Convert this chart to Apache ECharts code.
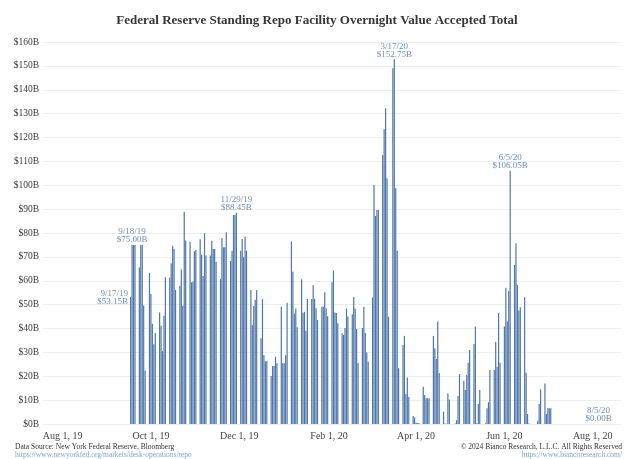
<!DOCTYPE html>
<html>
<head>
<meta charset="utf-8">
<script src="https://cdn.jsdelivr.net/npm/echarts@6/dist/echarts.min.js"></script>
<style>
  html, body { margin: 0; padding: 0; background: #ffffff; }
  #chart { width: 634px; height: 459px; }
</style>
</head>
<body>
<div id="chart"></div>
<script>
// Overnight repo accepted, $ billions, one row per week (Mon..Fri).
const weekStarts = [
  '2019-09-16', '2019-09-23', '2019-09-30', '2019-10-07', '2019-10-14', '2019-10-21',
  '2019-10-28', '2019-11-04', '2019-11-11', '2019-11-18', '2019-11-25', '2019-12-02',
  '2019-12-09', '2019-12-16', '2019-12-23', '2019-12-30', '2020-01-06', '2020-01-13',
  '2020-01-20', '2020-01-27', '2020-02-03', '2020-02-10', '2020-02-17', '2020-02-24',
  '2020-03-02', '2020-03-09', '2020-03-16', '2020-03-23', '2020-03-30', '2020-04-06',
  '2020-04-13', '2020-04-20', '2020-04-27', '2020-05-04', '2020-05-11', '2020-05-18',
  '2020-05-25', '2020-06-01', '2020-06-08', '2020-06-15', '2020-06-22', '2020-06-29',
  '2020-07-06', '2020-07-13', '2020-07-20', '2020-07-27', '2020-08-03'
];
const acceptedByWeek = [
  [null, 53.15, 75.00, 75.00, 75.00],
  [65.5, 75.0, 75.0, 49.6, 22.4],
  [63.2, 54.5, 42.0, 33.4, 38.1],
  [46.7, 41.1, 30.5, 45.3, 61.4],
  [61.4, 67.3, 74.7, 73.3, 56.2],
  [57.9, 64.7, 49.5, 88.9, 76.9],
  [76.3, 59.3, 59.7, 72.4, 72.9],
  [77.4, 70.8, 62.0, 79.9, 70.6],
  [70.6, 76.8, 73.3, 73.3, 68.0],
  [60.7, 77.9, 74.0, 74.0, 80.3],
  [68.3, 72.6, 87.5, 87.5, 88.45],
  [72.6, 77.5, 69.8, 78.5, 72.6],
  [56.1, 41.5, 49.4, 52.0, 56.1],
  [35.9, 52.3, 28.9, 26.3, 26.3],
  [20.1, 24.3, 24.3, 28.2, 25.4],
  [49.1, 25.4, 25.4, 28.8, 50.8],
  [76.5, 63.8, 46.2, 48.4, 40.5],
  [60.6, 46.6, 47.0, 39.1, 52.4],
  [52.4, 58.2, 52.5, 48.5, 43.6],
  [49.1, 49.1, 55.2, 48.4, 45.1],
  [59.4, 64.3, 46.7, 46.5, 42.2],
  [38.0, 37.3, 40.2, 48.4, 45.0],
  [46.0, 53.2, 48.4, 39.8, 25.5],
  [40.2, 49.1, 38.1, 29.9, 26.1],
  [53.0, 100.1, 87.1, 89.6, 89.6],
  [112.7, 123.5, 132.2, 102.9, 45.0],
  [149.0, 152.75, 98.7, 72.6, 23.3],
  [33.1, 36.9, 12.6, 19.5, 11.3],
  [3.4, 2.8, 0.6, 0.4, 0.4],
  [15.6, 12.1, 10.8, 10.8, 10.8],
  [36.9, 31.7, 27.2, 42.9, 21.4],
  [5.2, 0.2, 0.1, 12.8, 10.3],
  [0, 0.2, 1.6, 11.7, 20.9],
  [18.1, 14.2, 20.5, 25.7, 31.0],
  [33.5, 40.8, 0.3, 8.4, 14.2],
  [0, 0.3, 6.6, 9.1, 22.6],
  [22.6, 34.5, 24.0, 46.6, 25.7],
  [40.8, 57.1, 42.9, 55.7, 106.05],
  [66.6, 75.7, 58.2, 47.5, 48.9],
  [53.1, 21.5, 4.2, 0.2, 0],
  [0, 0, 1.4, 8.4, 14.5],
  [17.0, 4.2, 6.6, 6.6, 6.6],
  [0, 0, 0, 0, 0],
  [0, 0, 0, 0, 0],
  [0, 0, 0, 0, 0],
  [0, 0, 0, 0, 0],
  [0, 0, 0]
];

// Calendar range of the date axis and its labelled dates.
const axisStart = '2019-07-19';
const axisEnd = '2020-08-20';
const tickDates = ['2019-08-01', '2019-10-01', '2019-12-01', '2020-02-01', '2020-04-01', '2020-06-01', '2020-08-01'];

// Days that get a date/value call-out above the bar.
const calloutDates = ['2019-09-17', '2019-09-18', '2019-11-29', '2020-03-17', '2020-06-05', '2020-08-05'];
const calloutLeft = ['2019-09-17'];

const MONTHS = ['Jan', 'Feb', 'Mar', 'Apr', 'May', 'Jun', 'Jul', 'Aug', 'Sep', 'Oct', 'Nov', 'Dec'];
const SERIF = '"Liberation Serif", "DejaVu Serif", serif';

function addDays(s, n) {
  const d = new Date(s + 'T00:00:00Z');
  d.setUTCDate(d.getUTCDate() + n);
  return d.toISOString().slice(0, 10);
}
function parts(s) {
  const [y, m, d] = s.split('-').map(Number);
  return { y: y % 100, m: m, d: d };
}

const valueByDate = {};
weekStarts.forEach((w, i) => {
  acceptedByWeek[i].forEach((v, j) => {
    if (v !== null) valueByDate[addDays(w, j)] = v;
  });
});

const days = [];
for (let s = axisStart; s <= axisEnd; s = addDays(s, 1)) days.push(s);

const tickSet = new Set(tickDates);

const calloutStyle = {
  fontFamily: SERIF,
  fontSize: 9,
  lineHeight: 8,
  color: '#6f8fbd'
};

const barData = days.map(d => {
  const v = valueByDate[d];
  if (v === undefined) return '-';
  if (calloutDates.indexOf(d) >= 0) {
    const p = parts(d);
    const text = p.m + '/' + p.d + '/' + p.y + '\n$' + v.toFixed(2) + 'B';
    const left = calloutLeft.indexOf(d) >= 0;
    const label = left
      ? Object.assign({ show: true, position: [-2, 1], align: 'right', verticalAlign: 'middle', formatter: text }, calloutStyle)
      : Object.assign({ show: true, position: 'top', distance: 1, formatter: text }, calloutStyle);
    return { value: v, label: label };
  }
  return v;
});

const chart = echarts.init(document.getElementById('chart'), null, { renderer: 'canvas' });

chart.setOption({
  backgroundColor: '#ffffff',
  animation: false,
  title: {
    text: 'Federal Reserve Standing Repo Facility Overnight Value Accepted Total',
    left: 'center',
    top: 9,
    textStyle: {
      fontFamily: SERIF,
      fontWeight: 'bold',
      fontSize: 13,
      color: '#363636'
    }
  },
  grid: { left: 43, right: 13, top: 42, bottom: 35, containLabel: false },
  xAxis: {
    type: 'category',
    data: days,
    boundaryGap: true,
    axisLine: { show: false },
    axisTick: { show: false },
    splitLine: { show: false },
    axisLabel: {
      interval: (idx, val) => tickSet.has(val),
      formatter: val => {
        const p = parts(val);
        return MONTHS[p.m - 1] + ' ' + p.d + ', ' + p.y;
      },
      margin: 7,
      fontFamily: SERIF,
      fontSize: 10,
      color: '#444444'
    }
  },
  yAxis: {
    type: 'value',
    min: 0,
    max: 160,
    interval: 10,
    axisLine: { show: false },
    axisTick: { show: false },
    splitLine: { lineStyle: { color: '#eeeeee', width: 1 } },
    axisLabel: {
      formatter: v => '$' + v + 'B',
      margin: 4,
      fontFamily: SERIF,
      fontSize: 9.5,
      color: '#3a3a3a'
    }
  },
  series: [{
    type: 'bar',
    data: barData,
    barWidth: 1.2,
    itemStyle: { color: '#5077ab' },
    emphasis: { disabled: true }
  }],
  graphic: [
    { type: 'text', left: 15, top: 443, style: { text: 'Data Source: New York Federal Reserve, Bloomberg', fontFamily: SERIF, fontSize: 7.5, fill: '#333333' } },
    { type: 'text', left: 15, top: 451, style: { text: 'https://www.newyorkfed.org/markets/desk-operations/repo', fontFamily: SERIF, fontSize: 7.5, fill: '#7ea3cf' } },
    { type: 'text', right: 12, top: 443, style: { text: '\u00a9 2024 Bianco Research, L.L.C. All Rights Reserved', fontFamily: SERIF, fontSize: 7.5, fill: '#333333', align: 'right' } },
    { type: 'text', right: 12, top: 451, style: { text: 'https://www.biancoresearch.com/', fontFamily: SERIF, fontSize: 7.5, fill: '#7ea3cf', align: 'right' } }
  ]
});
</script>
</body>
</html>
